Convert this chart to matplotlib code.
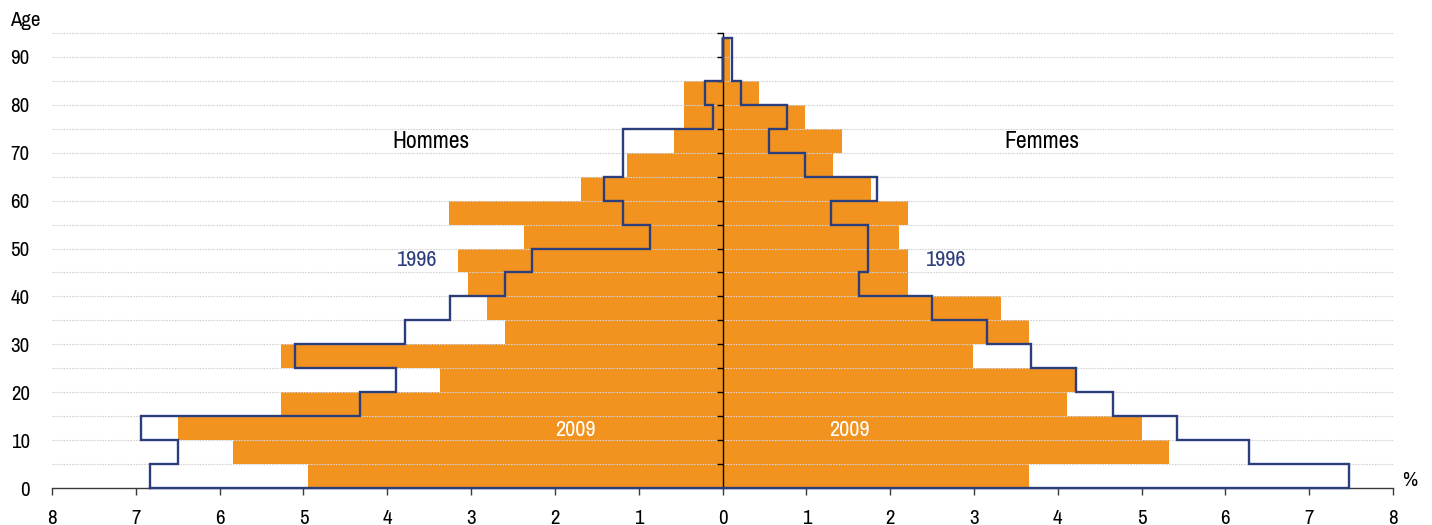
import numpy as np
import matplotlib
matplotlib.use("Agg")
import matplotlib.pyplot as plt

plt.rcParams['font.family'] = ['Archivo Narrow', 'DejaVu Sans']
plt.rcParams['font.stretch'] = 'condensed'

# tranches d'age (la derniere : 85 ans et plus)
age_debut = [0, 5, 10, 15, 20, 25, 30, 35, 40, 45, 50, 55, 60, 65, 70, 75, 80, 85]
age_fin = [5, 10, 15, 20, 25, 30, 35, 40, 45, 50, 55, 60, 65, 70, 75, 80, 85, 94]

hommes_2009 = [4.94, 5.84, 6.50, 5.27, 3.37, 5.27, 2.59, 2.81, 3.04, 3.15,
               2.37, 3.26, 1.69, 1.14, 0.58, 0.46, 0.46, 0.02]
hommes_1996 = [6.83, 6.50, 6.94, 4.33, 3.90, 5.10, 3.79, 3.25, 2.60, 2.27,
               0.86, 1.19, 1.41, 1.19, 1.19, 0.11, 0.21, 0.00]
femmes_2009 = [3.66, 5.33, 5.00, 4.11, 4.22, 2.99, 3.66, 3.32, 2.21, 2.21,
               2.10, 2.21, 1.77, 1.32, 1.43, 0.99, 0.43, 0.09]
femmes_1996 = [7.47, 6.28, 5.42, 4.66, 4.22, 3.68, 3.15, 2.50, 1.63, 1.74,
               1.74, 1.30, 1.84, 0.99, 0.55, 0.77, 0.22, 0.11]

x_ticks = list(range(-8, 9))
x_labels = [str(abs(v)) for v in x_ticks]
y_ticks = [0, 10, 20, 30, 40, 50, 60, 70, 80, 90]

orange = '#F2931F'
bleu = '#2C3D7B'

fig = plt.figure(figsize=(14.32, 5.25), dpi=100)
ax = fig.add_axes([52 / 1432, 37 / 525, (1393 - 52) / 1432, (488 - 33) / 525])
ax.set_xlim(-8, 8)
ax.set_ylim(0, 95)

debut = np.array(age_debut)
haut = np.array(age_fin) - debut

# barres 2009
ax.barh(debut, -np.array(hommes_2009), height=haut, align='edge', color=orange, lw=0, zorder=1)
ax.barh(debut, femmes_2009, height=haut, align='edge', color=orange, lw=0, zorder=1)

# quadrillage
ax.hlines(range(5, 100, 5), -8, 8, colors='#d2d2d2', linestyles=(0, (1.5, 1)), lw=0.8,
          zorder=2, clip_on=False)

# axe central
ax.plot([0, 0], [0, 95], color='black', lw=1, zorder=3, clip_on=False)
ax.plot([0] * 19, range(5, 100, 5), ls='none', marker=0, ms=4, mew=1, color='black',
        zorder=3, clip_on=False)

# contour 1996
ys = np.column_stack([debut, age_fin]).ravel()
xh = -np.repeat(hommes_1996, 2)
xf = np.repeat(femmes_1996, 2)
xs = np.concatenate([xh, xf[::-1], [xh[0]]])
yy = np.concatenate([ys, ys[::-1], [ys[0]]])
ax.plot(xs, yy, color=bleu, lw=1.7, zorder=4, clip_on=False, solid_joinstyle='miter')

# axes
for s in ['left', 'right', 'top']:
    ax.spines[s].set_visible(False)
ax.spines['bottom'].set_color('#3a3a3a')
ax.spines['bottom'].set_linewidth(1.0)
ax.set_xticks(x_ticks)
ax.set_xticklabels(x_labels)
ax.set_yticks(y_ticks)
ax.tick_params(axis='x', length=5, width=1, color='#3a3a3a', pad=10, labelsize=15)
ax.tick_params(axis='y', length=0, pad=16, labelsize=15)

fig.text(25 / 1432, 1 - 21 / 525, 'Age', fontsize=15, ha='center', va='center')
fig.text(1410 / 1432, 1 - 480 / 525, '%', fontsize=15, ha='center', va='center')

ax.text(-3.48, 72.4, 'Hommes', fontsize=17, ha='center', va='center')
ax.text(3.81, 72.4, 'Femmes', fontsize=17, ha='center', va='center')
ax.text(-3.64, 47.6, '1996', fontsize=16, color=bleu, ha='center', va='center')
ax.text(2.67, 47.6, '1996', fontsize=16, color=bleu, ha='center', va='center')
ax.text(-1.76, 12.1, '2009', fontsize=16, color='white', ha='center', va='center', zorder=5)
ax.text(1.51, 12.1, '2009', fontsize=16, color='white', ha='center', va='center', zorder=5)

fig.savefig('out.png', dpi=100)
